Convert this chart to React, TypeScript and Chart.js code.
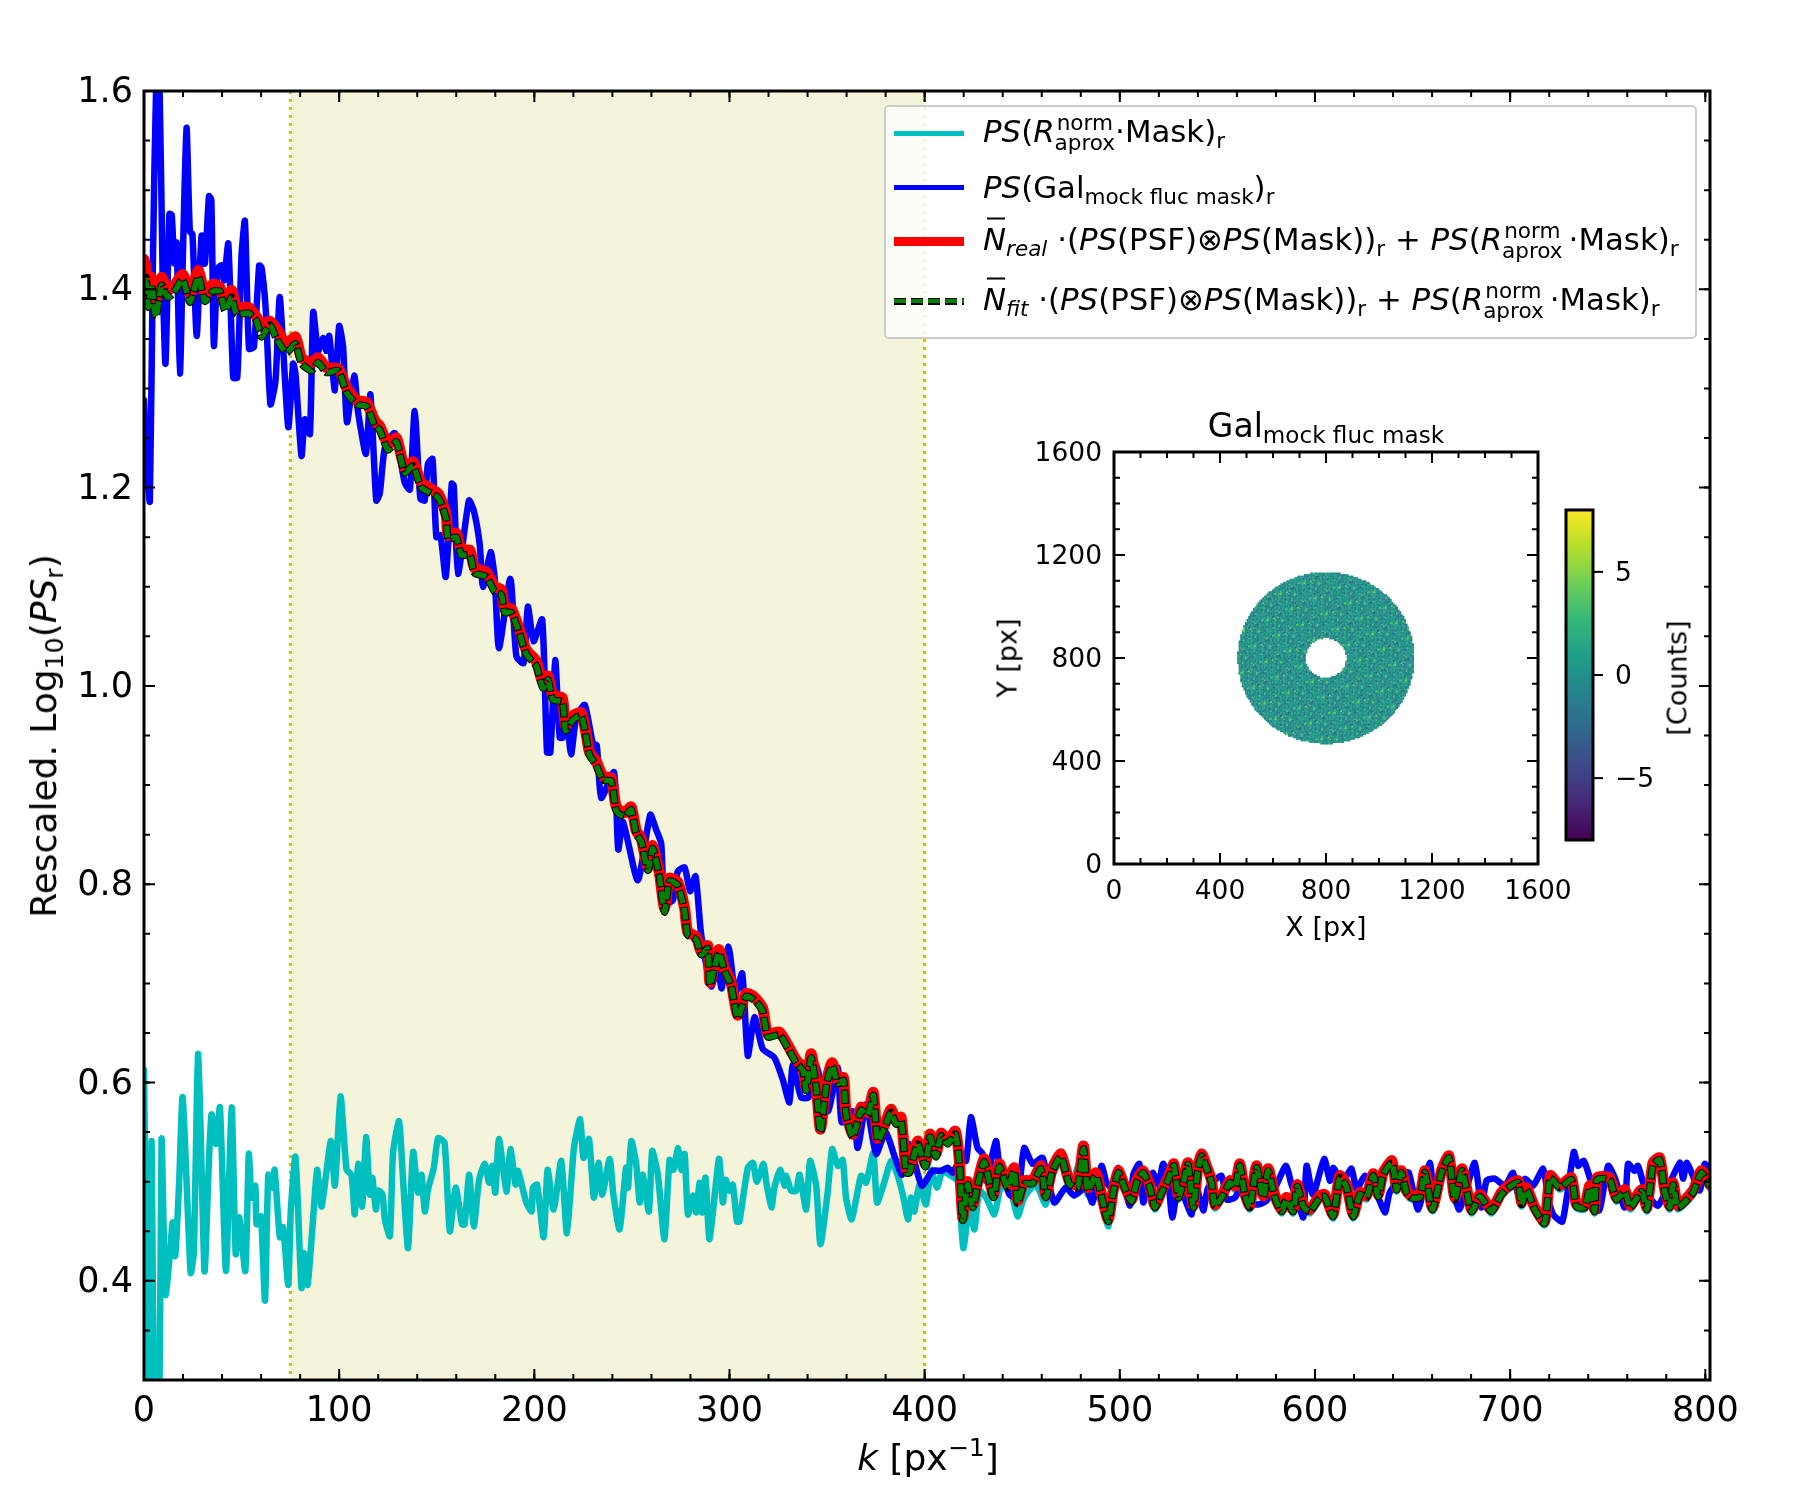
import React, { useEffect, useRef } from "react";
import { Chart, registerables } from "chart.js";

Chart.register(...registerables);

type Pair = number[];

const xTicks = [0, 100, 200, 300, 400, 500, 600, 700, 800];
const xMinorStep = 20;
const yTicks = [0.4, 0.6, 0.8, 1.0, 1.2, 1.4, 1.6];
const yMinorStep = 0.05;
const insetTicks = [0, 400, 800, 1200, 1600];
const insetMinorStep = 100;
const colorbarTicks = [-5, 0, 5];
const fitBand = [75, 400];

// [k, value], peak by peak
const cyanPoints: Pair[] = [
  [0,.613],[1,.45],[2.2,.25],[3.9,.541],[5.5,.2],[7.5,.2],[9,.543],[11,.386],[13.3,.427],[14.7,.459],[16,.425],[18,.499],[19.8,.585],[23.9,.408],[25.5,.428],[27.8,.629],[31,.41],[33,.507],[34.6,.568],[36.9,.538],[38.9,.575],[42,.41],[44.9,.575],[47,.427],[48.8,.464],[51.9,.41],[53.7,.528],[55.1,.484],[57,.496],[57.7,.457],[59.9,.465],[62,.38],[63.7,.507],[65.7,.494],[66.9,.512],[69.6,.444],[71.3,.454],[73.9,.396],[75.2,.47],[77.6,.525],[80.7,.393],[81.9,.428],[83.8,.396],[86.7,.464],[88.7,.512],[91,.475],[95.7,.541],[97.8,.496],[100.7,.586],[103.8,.512],[106.3,.507],[108,.467],[109.7,.518],[111.8,.475],[113.8,.545],[115.7,.487],[117,.504],[118.8,.472],[120,.491],[122.2,.487],[123.4,.462],[126,.445],[127.6,.529],[130.7,.561],[132.8,.5],[135.3,.433],[137.9,.53],[140.4,.489],[142.2,.507],[143.9,.47],[145.5,.492],[148.5,.514],[150.7,.544],[154,.539],[156.7,.45],[159.7,.494],[163,.457],[164.3,.457],[166.6,.507],[169,.455],[171.7,.502],[174.6,.518],[176.8,.499],[178.5,.516],[180,.489],[181.9,.543],[185.7,.49],[187.7,.533],[190.4,.497],[191.6,.511],[195.9,.479],[198.6,.47],[199.3,.494],[201.4,.497],[204.8,.444],[206.8,.512],[209.9,.472],[213.8,.521],[216.7,.448],[220.3,.534],[223.5,.563],[225.2,.524],[228,.543],[230.5,.484],[232.9,.519],[234.8,.487],[238.6,.523],[240.5,.487],[243.7,.452],[247,.514],[248,.494],[249.7,.541],[252.2,.518],[254,.479],[255.6,.507],[258.7,.47],[260.4,.531],[263.3,.507],[266.7,.442],[269.3,.522],[271.3,.512],[273.6,.534],[275.3,.512],[277,.528],[278.7,.467],[281.2,.486],[283,.469],[284.7,.499],[286,.469],[287.7,.504],[289.8,.442],[294.6,.523],[296.6,.479],[298,.502],[300,.491],[301.7,.497],[303.8,.46],[305.1,.46],[309.4,.514],[312,.519],[314,.5],[317.4,.518],[318.8,.5],[321.5,.474],[323,.494],[326,.512],[328.2,.496],[329,.506],[331.6,.491],[334.1,.491],[335.9,.507],[339.3,.472],[341.3,.521],[344.4,.496],[346.6,.437],[350.4,.491],[352.6,.533],[355.5,.516],[358,.522],[359.7,.484],[362.6,.462],[367.4,.506],[370,.499],[373.7,.529],[375.6,.479],[379.4,.5],[382.8,.521],[385.7,.509],[388.8,.487],[391.5,.462],[393,.484],[394.7,.47],[397.3,.497],[400.7,.477],[403.3,.512],[406.3,.494],[409.2,.511],[412.6,.507],[417,.5],[419.8,.433],[422.9,.474],[425.5,.452],[428,.491],[431.5,.484],[435.7,.467],[439,.494],[443.5,.494],[447.6,.465],[451,.484],[457,.497],[462,.477],[465.5,.507],[470,.52],[474,.495],[481,.525],[483.5,.487],[487.7,.5],[489.8,.49],[494,.455],[496.6,.487],[499.2,.507],[501.8,.495],[506,.478],[508.6,.497],[512,.507],[515.4,.492],[518,.472],[521.4,.487],[524.8,.5],[527.7,.514],[530,.482],[532.5,.497],[534.9,.515],[537.6,.472],[540,.51],[541.9,.524],[544.4,.512],[547,.497],[548.7,.473],[553,.485],[556.4,.497],[559,.492],[561.5,.514],[564,.485],[566.6,.472],[570,.512],[573.5,.482],[576,.509],[579.5,.482],[582.9,.468],[585.4,.48],[588.8,.468],[590.9,.493],[594,.473],[597.4,.468],[602.5,.482],[605,.483],[609.3,.463],[612.7,.502],[616.1,.493],[619.6,.463],[623,.485],[626.4,.482],[629.8,.504],[632.4,.483],[634.9,.505],[639.5,.517],[641.8,.49],[644.3,.507],[646.9,.487],[649.4,.482],[653.7,.482],[656.3,.507],[660.2,.47],[664.8,.507],[668.6,.522],[671.6,.48],[675.4,.509],[680.2,.468],[684.5,.483],[690.4,.468],[695.5,.485],[699.8,.493],[704.1,.497],[705.8,.475],[708.3,.49],[712.6,.47],[717.7,.456],[720.6,.502],[725.4,.492],[731.4,.5],[734,.473],[738.2,.472],[740.8,.492],[743.3,.468],[744.5,.5],[751,.5],[754.4,.48],[758.7,.488],[761.6,.472],[767.3,.488],[770.1,.47],[773.2,.515],[776.6,.52],[779.2,.488],[781.8,.472],[783.5,.495],[786,.472],[793.7,.487],[798,.507],[802.4,.493],
];

const bluePoints: Pair[] = [
  [0,1.288],[1.5,1.22],[3,1.186],[4.5,1.42],[6.5,1.63],[8,1.6],[9.5,1.42],[11,1.325],[13,1.476],[14.2,1.475],[15.5,1.426],[16.7,1.447],[18.4,1.315],[20,1.44],[21.8,1.563],[23.5,1.458],[24.8,1.456],[27,1.353],[29.5,1.454],[31.2,1.426],[33.3,1.494],[34.5,1.49],[35.8,1.343],[37.7,1.421],[39.8,1.424],[41,1.409],[43.2,1.446],[45.7,1.311],[47.8,1.311],[50,1.435],[51.7,1.469],[53.8,1.34],[56.3,1.342],[59,1.424],[60.2,1.422],[62.3,1.382],[64.8,1.284],[67.4,1.308],[69.6,1.392],[73.9,1.261],[76.4,1.325],[77.6,1.315],[80.7,1.232],[82.4,1.269],[85,1.254],[86.7,1.377],[89.2,1.338],[91.8,1.351],[93.5,1.338],[94.9,1.353],[97.8,1.298],[100,1.363],[102,1.342],[104,1.266],[107.7,1.313],[109.7,1.276],[113.7,1.234],[116,1.294],[119,1.187],[120.8,1.194],[123.4,1.24],[128.5,1.255],[133.6,1.205],[136.2,1.198],[138.7,1.277],[141.6,1.189],[143.8,1.187],[145.5,1.224],[147.8,1.229],[149.8,1.15],[151.9,1.152],[154.6,1.11],[157.7,1.204],[158.7,1.202],[160.9,1.113],[166.5,1.187],[169.1,1.176],[172,1.143],[173.7,1.1],[177.6,1.135],[179.7,1.108],[181.9,1.038],[187.7,1.108],[190.8,1.03],[194.5,1.023],[196.7,1.08],[199.6,1.045],[204,1.067],[206.5,.933],[208.2,.933],[210.7,1.026],[213,.948],[214.7,.948],[216.4,.972],[218.8,.931],[221.5,.968],[225.8,.981],[230,.942],[232,.94],[234.3,.887],[240.8,.913],[243,.835],[245.4,.863],[253,.804],[259.4,.87],[262.4,.855],[265,.841],[266.7,.78],[271,.784],[273.5,.813],[277,.817],[279.8,.793],[282.6,.808],[285.5,.749],[290.6,.697],[294,.715],[296,.695],[299.5,.737],[303,.69],[306.5,.71],[309.4,.627],[312.8,.666],[317,.634],[323,.625],[327.3,.603],[330.7,.58],[332.4,.618],[336.7,.585],[340.5,.585],[344.4,.618],[350.4,.571],[355.5,.615],[357.5,.56],[363.2,.571],[365.7,.534],[370,.578],[375.1,.528],[380,.55],[384.5,.526],[388.4,.507],[392,.538],[398.5,.496],[404,.511],[408.4,.511],[411.8,.514],[414.4,.509],[417.8,.521],[421.2,.521],[423.7,.565],[427.1,.534],[429.7,.528],[431.5,.501],[436.5,.541],[438.2,.518],[443.5,.487],[447.6,.484],[451,.534],[455.3,.518],[460.4,.524],[466.4,.479],[472.3,.494],[476.6,.486],[482.6,.494],[486,.479],[490.6,.516],[493.2,.499],[495.8,.494],[499.2,.514],[502,.497],[505.2,.476],[506.9,.507],[510,.518],[512,.479],[514.6,.501],[517,.509],[519.7,.497],[522.2,.518],[524.8,.501],[526.9,.464],[530,.497],[532.5,.487],[536.8,.467],[538.5,.501],[542.7,.471],[545.3,.494],[552.1,.506],[554.7,.482],[559,.484],[563.2,.497],[566.6,.479],[570.9,.477],[575.2,.481],[580.3,.497],[585.1,.516],[588,.497],[590.6,.484],[594,.464],[595.7,.516],[599,.487],[604.7,.523],[607.6,.501],[609.3,.514],[612,.506],[615.3,.504],[618.7,.513],[621.3,.492],[625.5,.506],[629.8,.497],[635.8,.469],[638.3,.489],[646,.509],[648.1,.509],[652.9,.472],[658.8,.519],[661.4,.477],[666.5,.521],[673.7,.472],[676.8,.487],[681.9,.519],[685.3,.474],[687.9,.501],[692.1,.503],[697.3,.496],[701.5,.509],[704,.487],[707.5,.503],[711.8,.496],[716.9,.513],[719.4,.484],[722,.467],[726.8,.46],[732.6,.53],[734.8,.516],[737.7,.521],[740.8,.504],[745.6,.471],[750.2,.516],[753.6,.504],[758.7,.474],[760.4,.518],[763.8,.511],[765.5,.516],[769.8,.489],[775.8,.476],[786.9,.519],[788.6,.503],[790.6,.519],[797.1,.491],[799.7,.518],[802.4,.51],
];

const redPoints: Pair[] = [
  [0,1.43],[1,1.422],[2.2,1.392],[3.9,1.412],[6.1,1.389],[9,1.412],[12,1.4],[15,1.402],[19.8,1.415],[23.6,1.395],[27.8,1.419],[31.2,1.395],[35.2,1.405],[38.9,1.402],[41.5,1.385],[44.9,1.399],[47.4,1.382],[53.4,1.382],[57.7,1.372],[60.2,1.363],[64.5,1.368],[67.9,1.36],[73,1.345],[77.6,1.352],[80.7,1.331],[85.8,1.326],[89.2,1.331],[93.5,1.321],[99.5,1.32],[103.8,1.301],[108.9,1.288],[114,1.286],[118.3,1.267],[120.8,1.262],[125,1.244],[129.3,1.25],[133.6,1.22],[137.9,1.226],[142.1,1.205],[150.7,1.194],[154.9,1.172],[155.8,1.152],[160,1.154],[162.6,1.137],[166.9,1.137],[169.4,1.119],[175.4,1.115],[179.7,1.1],[183.1,1.097],[184.8,1.078],[188.2,1.078],[192.5,1.056],[195.9,1.036],[201,1.025],[204.4,1.003],[207,1.01],[209.5,.99],[214.3,.988],[216,.96],[219.8,.97],[224,.973],[226.6,.951],[228.3,.933],[231.7,.924],[235.1,.909],[239.4,.907],[242,.878],[246.2,.872],[249.6,.878],[252.2,.854],[254.8,.846],[258.2,.817],[260.7,.839],[264.1,.811],[266.7,.776],[269.3,.806],[273.5,.802],[277,.776],[278.6,.752],[283,.747],[285.5,.732],[288.9,.738],[290,.701],[294.5,.734],[297.4,.716],[300.8,.701],[304.2,.668],[308.5,.69],[312.8,.686],[317,.675],[319.6,.649],[325.6,.651],[329.8,.638],[334.1,.623],[337.6,.615],[339.3,.595],[341.8,.629],[344.4,.598],[346.6,.553],[349.8,.602],[352.6,.62],[355.5,.602],[358.4,.605],[359.7,.571],[363.2,.548],[367.4,.575],[370.8,.57],[373.7,.59],[375.9,.544],[380.2,.561],[382.8,.573],[385.3,.561],[387.9,.565],[390.5,.512],[392.2,.512],[396.4,.541],[400.4,.518],[402.7,.548],[405.8,.528],[408.4,.549],[411.8,.541],[415.7,.551],[417.8,.521],[419.5,.464],[422,.5],[424.6,.477],[427.1,.499],[430.6,.523],[435.2,.487],[438.2,.518],[442.5,.497],[445.9,.514],[447.6,.481],[451,.501],[455.3,.501],[459.6,.516],[462.1,.487],[465.5,.514],[469.8,.528],[474.1,.501],[478.3,.497],[481.4,.536],[483.5,.494],[487.7,.509],[489.8,.494],[494,.462],[496.6,.491],[499.2,.511],[501.8,.499],[506,.482],[508.6,.501],[512,.511],[515.4,.496],[518,.476],[521.4,.491],[524.8,.504],[527.7,.518],[530,.486],[532.5,.501],[534.9,.519],[537.6,.476],[540,.514],[541.9,.528],[544.4,.516],[547,.501],[548.7,.477],[553,.489],[556.4,.501],[559,.496],[561.5,.518],[564,.489],[566.6,.476],[570,.516],[573.5,.486],[576,.513],[579.5,.486],[582.9,.472],[585.4,.484],[588.8,.472],[590.9,.497],[594,.477],[597.4,.472],[602.5,.486],[605,.487],[609.3,.467],[612.7,.506],[616.1,.497],[619.6,.467],[623,.489],[626.4,.486],[629.8,.508],[632.4,.487],[634.9,.509],[639.5,.521],[641.8,.494],[644.3,.511],[646.9,.491],[649.4,.486],[653.7,.486],[656.3,.511],[660.2,.474],[664.8,.511],[668.6,.526],[671.6,.484],[675.4,.513],[680.2,.472],[684.5,.487],[690.4,.472],[695.5,.489],[699.8,.497],[704.1,.501],[705.8,.479],[708.3,.494],[712.6,.474],[717.7,.46],[720.6,.506],[725.4,.496],[731.4,.504],[734,.477],[738.2,.476],[740.8,.496],[743.3,.472],[744.5,.504],[751,.504],[754.4,.484],[758.7,.492],[761.6,.476],[767.3,.492],[770.1,.474],[773.2,.519],[776.6,.524],[779.2,.492],[781.8,.476],[783.5,.499],[786,.476],[793.7,.491],[798,.511],[802.4,.497],
];

const fitPoints: Pair[] = [
  [0,1.4],[1,1.412],[2.2,1.382],[3.9,1.405],[6.1,1.372],[9,1.404],[12,1.392],[15,1.396],[19.8,1.41],[23.6,1.387],[27.8,1.413],[31.2,1.388],[35.2,1.398],[38.9,1.398],[41.5,1.378],[44.9,1.392],[47.4,1.375],[53.4,1.376],[57.7,1.368],[60.2,1.352],[64.5,1.364],[67.9,1.35],[73,1.336],[77.6,1.345],[80.7,1.325],[85.8,1.318],[89.2,1.326],[93.5,1.316],[99.5,1.318],[103.8,1.296],[108.9,1.284],[114,1.282],[118.3,1.262],[120.8,1.258],[125,1.238],[129.3,1.246],[133.6,1.215],[137.9,1.222],[142.1,1.2],[150.7,1.19],[154.9,1.168],[155.8,1.148],[160,1.15],[162.6,1.132],[166.9,1.132],[169.4,1.114],[175.4,1.11],[179.7,1.095],[183.1,1.092],[184.8,1.074],[188.2,1.074],[192.5,1.052],[195.9,1.032],[201,1.02],[204.4,.998],[207,1.006],[209.5,.986],[214.3,.984],[216,.955],[219.8,.966],[224,.97],[226.6,.948],[228.3,.93],[231.7,.92],[235.1,.905],[239.4,.904],[242,.874],[246.2,.868],[249.6,.875],[252.2,.851],[254.8,.843],[258.2,.814],[260.7,.836],[264.1,.808],[266.7,.772],[269.3,.803],[273.5,.799],[277,.773],[278.6,.749],[283,.744],[285.5,.729],[288.9,.735],[290,.698],[294.5,.731],[297.4,.713],[300.8,.698],[304.2,.665],[308.5,.687],[312.8,.683],[317,.672],[319.6,.646],[325.6,.648],[329.8,.635],[334.1,.62],[337.6,.612],[339.3,.592],[341.8,.625],[344.4,.595],[346.6,.55],[349.8,.599],[352.6,.617],[355.5,.599],[358.4,.602],[359.7,.568],[363.2,.545],[367.4,.572],[370.8,.567],[373.7,.587],[375.9,.541],[380.2,.558],[382.8,.57],[385.3,.558],[387.9,.562],[390.5,.509],[392.2,.509],[396.4,.538],[400.4,.515],[402.7,.545],[405.8,.525],[408.4,.546],[411.8,.538],[415.7,.548],[417.8,.518],[419.5,.461],[422,.497],[424.6,.474],[427.1,.496],[430.6,.52],[435.2,.484],[438.2,.515],[442.5,.494],[445.9,.511],[447.6,.478],[451,.498],[455.3,.498],[459.6,.513],[462.1,.484],[465.5,.511],[469.8,.525],[474.1,.498],[478.3,.494],[481.4,.533],[483.5,.491],[487.7,.506],[489.8,.492],[494,.46],[496.6,.489],[499.2,.509],[501.8,.497],[506,.48],[508.6,.499],[512,.509],[515.4,.494],[518,.474],[521.4,.489],[524.8,.502],[527.7,.516],[530,.484],[532.5,.499],[534.9,.517],[537.6,.474],[540,.512],[541.9,.526],[544.4,.514],[547,.499],[548.7,.475],[553,.487],[556.4,.499],[559,.494],[561.5,.516],[564,.487],[566.6,.474],[570,.514],[573.5,.484],[576,.511],[579.5,.484],[582.9,.47],[585.4,.482],[588.8,.47],[590.9,.495],[594,.475],[597.4,.47],[602.5,.484],[605,.485],[609.3,.465],[612.7,.504],[616.1,.495],[619.6,.465],[623,.487],[626.4,.484],[629.8,.506],[632.4,.485],[634.9,.507],[639.5,.519],[641.8,.492],[644.3,.509],[646.9,.489],[649.4,.484],[653.7,.484],[656.3,.509],[660.2,.472],[664.8,.509],[668.6,.524],[671.6,.482],[675.4,.511],[680.2,.47],[684.5,.485],[690.4,.47],[695.5,.487],[699.8,.495],[704.1,.499],[705.8,.477],[708.3,.492],[712.6,.472],[717.7,.458],[720.6,.504],[725.4,.494],[731.4,.502],[734,.475],[738.2,.474],[740.8,.494],[743.3,.47],[744.5,.502],[751,.502],[754.4,.482],[758.7,.49],[761.6,.474],[767.3,.49],[770.1,.472],[773.2,.517],[776.6,.522],[779.2,.49],[781.8,.474],[783.5,.497],[786,.474],[793.7,.489],[798,.509],[802.4,.495],
];

// The ring's per-pixel noise cannot be read one cell at a time: this is a hand
// estimated sample of its [Counts], repeated over the cells of the ring.
const noiseSample = [
  0,1,-1,2,-1,0,1,-2,1,3,-1,0,-1,1,1,-3,0,2,-1,1,4,-1,0,1,-2,1,0,-1,2,-1,1,0,-1,3,-2,0,1,1,-1,0,
  2,-1,-3,1,0,1,-1,4,0,-1,1,-2,1,0,2,-1,1,-1,0,3,-2,1,1,-1,0,-1,2,0,1,-3,1,-1,5,0,-1,1,2,-2,0,1,
  -1,1,0,-1,3,-1,1,-2,0,1,2,-1,0,-4,1,1,-1,2,0,-1,1,3,-2,0,1,-1,0,1,-1,4,-1,0,2,-3,1,1,0,-1,-1,2,
  1,-2,0,1,-1,3,0,-1,1,0,2,-1,-2,1,0,1,-1,3,-1,0,1,-2,1,0,-1,2,-3,1,1,0,-1,2,-1,5,0,-2,1,1,-1,0,
  3,-1,1,-1,0,2,-1,0,1,-4,1,2,-1,0,-1,1,1,-2,3,0,-1,1,0,-1,1,2,-2,0,-1,4,1,-1,0,1,-3,1,2,-1,0,
];
const ringCenter = 800;
const ringInner = 77;
const ringOuter = 333;
const ringCell = 6;

const viridisStops = ["#440154", "#482878", "#3e4989", "#31688e", "#26828e", "#1f9e89", "#35b779", "#6ece58", "#b5de2b", "#fde725"];
const colorbarRange = [-8, 8];

function viridis(v: number) {
  const t = Math.max(0, Math.min(1, (v - colorbarRange[0]) / (colorbarRange[1] - colorbarRange[0])));
  const p = t * (viridisStops.length - 1);
  const i = Math.min(viridisStops.length - 2, Math.floor(p));
  const rgb = (h: string) => [1, 3, 5].map((o) => parseInt(h.slice(o, o + 2), 16));
  const a = rgb(viridisStops[i]);
  const b = rgb(viridisStops[i + 1]);
  const c = a.map((x, n) => Math.round(x + (b[n] - x) * (p - i)));
  return `rgb(${c[0]},${c[1]},${c[2]})`;
}

function ringCells() {
  const pts: { x: number; y: number }[] = [];
  const colors: string[] = [];
  for (let row = 0; row * ringCell <= 1600; row++) {
    for (let col = 0; col * ringCell <= 1600; col++) {
      const x = col * ringCell;
      const y = row * ringCell;
      const r = Math.hypot(x - ringCenter, y - ringCenter);
      if (r < ringInner || r > ringOuter) continue;
      pts.push({ x, y });
      colors.push(viridis(noiseSample[(col * 13 + row * 29) % noiseSample.length]));
    }
  }
  return { pts, colors };
}

const toXY = (list: Pair[]) => list.map(([x, y]) => ({ x, y }));

const FONT = "'DejaVu Sans'";

// inward ticks on all four sides plus the frame, as matplotlib draws them
function framePlugin(xMajor: number[], xStep: number, yMajor: number[], yStep: number) {
  return {
    id: "frame",
    afterDraw(chart: any) {
      const { ctx, chartArea: a, scales } = chart;
      const xs = scales.x;
      const ys = scales.y;
      ctx.save();
      ctx.strokeStyle = "#000";
      ctx.lineWidth = 2;
      const tickX = (v: number, len: number) => {
        const p = xs.getPixelForValue(v);
        ctx.beginPath();
        ctx.moveTo(p, a.bottom);
        ctx.lineTo(p, a.bottom - len);
        ctx.moveTo(p, a.top);
        ctx.lineTo(p, a.top + len);
        ctx.stroke();
      };
      const tickY = (v: number, len: number) => {
        const p = ys.getPixelForValue(v);
        ctx.beginPath();
        ctx.moveTo(a.left, p);
        ctx.lineTo(a.left + len, p);
        ctx.moveTo(a.right, p);
        ctx.lineTo(a.right - len, p);
        ctx.stroke();
      };
      for (let v = xs.min; v <= xs.max + 1e-6; v += xStep) tickX(v, 6);
      for (let v = ys.max; v >= ys.min - 1e-6; v -= yStep) tickY(v, 6);
      xMajor.forEach((v) => tickX(v, 11));
      yMajor.forEach((v) => tickY(v, 11));
      ctx.lineWidth = 3;
      ctx.strokeRect(a.left, a.top, a.right - a.left, a.bottom - a.top);
      ctx.restore();
    },
  };
}

const bandPlugin = {
  id: "band",
  beforeDatasetsDraw(chart: any) {
    const { ctx, chartArea: a, scales } = chart;
    const x0 = scales.x.getPixelForValue(fitBand[0]);
    const x1 = scales.x.getPixelForValue(fitBand[1]);
    ctx.save();
    ctx.fillStyle = "#f4f4da";
    ctx.fillRect(x0, a.top, x1 - x0, a.bottom - a.top);
    ctx.strokeStyle = "#c8c000";
    ctx.lineWidth = 3;
    ctx.setLineDash([3, 5]);
    [x0, x1].forEach((x) => {
      ctx.beginPath();
      ctx.moveTo(x, a.top);
      ctx.lineTo(x, a.bottom);
      ctx.stroke();
    });
    ctx.restore();
  },
};

const colorbarPlugin = {
  id: "colorbar",
  beforeDatasetsDraw(chart: any) {
    const { ctx, chartArea: a } = chart;
    const g = ctx.createLinearGradient(0, a.bottom, 0, a.top);
    viridisStops.forEach((c, i) => g.addColorStop(i / (viridisStops.length - 1), c));
    ctx.save();
    ctx.fillStyle = g;
    ctx.fillRect(a.left, a.top, a.right - a.left, a.bottom - a.top);
    ctx.strokeStyle = "#000";
    ctx.lineWidth = 3;
    ctx.strokeRect(a.left, a.top, a.right - a.left, a.bottom - a.top);
    ctx.restore();
  },
};

const lineSet = (data: Pair[], color: string, width: number, order: number, extra = {}) => ({
  data: toXY(data),
  showLine: true,
  borderColor: color,
  borderWidth: width,
  pointRadius: 0,
  tension: 0.2,
  order,
  borderJoinStyle: "round",
  borderCapStyle: "round",
  ...extra,
});

const canvasStyle: React.CSSProperties = { position: "absolute", left: 0, top: 0, width: 1800, height: 1500 };

function MainChart() {
  const ref = useRef<HTMLCanvasElement | null>(null);
  useEffect(() => {
    if (!ref.current) return;
    const chart = new Chart(ref.current, {
      type: "scatter",
      data: {
        datasets: [
          lineSet(cyanPoints, "#00bfbf", 6.5, 5),
          lineSet(bluePoints, "#0000ff", 6.5, 4),
          lineSet(redPoints, "#ff0000", 11, 3),
          lineSet(fitPoints, "#000000", 7.5, 2, { borderDash: [14, 3], borderDashOffset: 1, borderCapStyle: "butt" }),
          lineSet(fitPoints, "#007f00", 5.5, 1, { borderDash: [12, 5], borderCapStyle: "butt" }),
        ] as any,
      },
      options: {
        animation: false,
        responsive: false,
        devicePixelRatio: 1,
        layout: { padding: { left: 0, right: 90, top: 91, bottom: 0 } },
        plugins: { legend: { display: false }, tooltip: { enabled: false } },
        scales: {
          x: {
            type: "linear",
            min: 0,
            max: 802.4,
            grid: { display: false },
            border: { display: false },
            afterBuildTicks: (s: any) => { s.ticks = xTicks.map((value) => ({ value })); },
            afterFit: (s: any) => { s.height = 120; },
            ticks: { color: "#000", padding: 3, maxRotation: 0, autoSkip: false, font: { family: FONT, size: 35 } },
          },
          y: {
            type: "linear",
            min: 0.3,
            max: 1.6,
            grid: { display: false },
            border: { display: false },
            afterBuildTicks: (s: any) => { s.ticks = yTicks.map((value) => ({ value })); },
            afterFit: (s: any) => { s.width = 144; },
            ticks: {
              color: "#000",
              padding: 3,
              labelOffset: 2,
              autoSkip: false,
              font: { family: FONT, size: 35 },
              callback: (v: any) => Number(v).toFixed(1),
            },
          },
        },
      },
      plugins: [bandPlugin, framePlugin(xTicks, xMinorStep, yTicks, yMinorStep)],
    } as any);
    return () => chart.destroy();
  }, []);
  return <canvas ref={ref} width={1800} height={1500} style={canvasStyle} />;
}

function InsetChart() {
  const ref = useRef<HTMLCanvasElement | null>(null);
  useEffect(() => {
    if (!ref.current) return;
    const { pts, colors } = ringCells();
    const insetScale = (width: boolean) => ({
      type: "linear",
      min: 0,
      max: 1600,
      grid: { display: false },
      border: { display: false },
      afterBuildTicks: (s: any) => { s.ticks = insetTicks.map((value) => ({ value })); },
      afterFit: (s: any) => {
        if (width) s.width = 1114;
        else s.height = 1500 - 864;
      },
      ticks: {
        color: "#000",
        padding: 4,
        labelOffset: width ? 2 : 0,
        maxRotation: 0,
        autoSkip: false,
        font: { family: FONT, size: 26.5 },
        callback: (v: any) => String(v),
      },
    });
    const chart = new Chart(ref.current, {
      type: "scatter",
      data: {
        datasets: [
          {
            data: pts,
            pointStyle: "rect",
            pointRadius: 1.4,
            pointBorderWidth: 0,
            pointBackgroundColor: colors,
          },
        ],
      },
      options: {
        animation: false,
        responsive: false,
        devicePixelRatio: 1,
        layout: { padding: { left: 0, right: 1800 - 1538, top: 452, bottom: 0 } },
        plugins: { legend: { display: false }, tooltip: { enabled: false } },
        scales: { x: insetScale(false), y: insetScale(true) },
      },
      plugins: [framePlugin(insetTicks, insetMinorStep, insetTicks, insetMinorStep)],
    } as any);
    return () => chart.destroy();
  }, []);
  return <canvas ref={ref} width={1800} height={1500} style={canvasStyle} />;
}

function ColorbarChart() {
  const ref = useRef<HTMLCanvasElement | null>(null);
  useEffect(() => {
    if (!ref.current) return;
    const chart = new Chart(ref.current, {
      type: "scatter",
      data: { datasets: [{ data: [], pointRadius: 0 }] },
      options: {
        animation: false,
        responsive: false,
        devicePixelRatio: 1,
        layout: { padding: { left: 1566, right: 81, top: 510, bottom: 0 } },
        plugins: { legend: { display: false }, tooltip: { enabled: false } },
        scales: {
          x: { display: false, min: 0, max: 1, afterFit: (s: any) => { s.height = 660; } },
          y: {
            type: "linear",
            position: "right",
            min: colorbarRange[0],
            max: colorbarRange[1],
            grid: { display: false, drawTicks: false },
            border: { display: false },
            afterBuildTicks: (s: any) => { s.ticks = colorbarTicks.map((value) => ({ value })); },
            afterFit: (s: any) => { s.width = 126; },
            ticks: {
              color: "#000",
              padding: 22,
              labelOffset: 2,
              autoSkip: false,
              font: { family: FONT, size: 26.5 },
              callback: (v: any) => String(v).replace("-", "\u2212"),
            },
          },
        },
      },
      plugins: [
        colorbarPlugin,
        {
          id: "cbTicks",
          afterDraw(c: any) {
            const { ctx, chartArea: a, scales } = c;
            ctx.save();
            ctx.strokeStyle = "#000";
            ctx.lineWidth = 2;
            colorbarTicks.forEach((v) => {
              const p = scales.y.getPixelForValue(v);
              ctx.beginPath();
              ctx.moveTo(a.right, p);
              ctx.lineTo(a.right + 10, p);
              ctx.stroke();
            });
            ctx.restore();
          },
        },
      ],
    } as any);
    return () => chart.destroy();
  }, []);
  return <canvas ref={ref} width={1800} height={1500} style={canvasStyle} />;
}

const subStyle: React.CSSProperties = { fontSize: "0.7em", verticalAlign: "-0.28em", lineHeight: 0 };

const Sub = ({ children }: { children: React.ReactNode }) => <span style={subStyle}>{children}</span>;
const I = ({ children }: { children: React.ReactNode }) => <i>{children}</i>;

const Stack = ({ gap = 0 }: { gap?: number }) => (
  <span
    style={{
      display: "inline-flex",
      flexDirection: "column",
      verticalAlign: "middle",
      fontSize: "0.7em",
      lineHeight: "0.95em",
      marginRight: gap,
      textAlign: "center",
    }}
  >
    <span>norm</span>
    <span>aprox</span>
  </span>
);

const NBar = ({ name }: { name: string }) => (
  <>
    <span style={{ position: "relative", fontStyle: "italic" }}>
      N
      <span style={{ position: "absolute", left: 4, right: 1, top: -3, height: 2, background: "#000" }} />
    </span>
    <i style={subStyle}>{name}</i>
  </>
);

const Label = ({ x, y, size, rotate, children }: { x: number; y: number; size: number; rotate?: boolean; children: React.ReactNode }) => (
  <div
    style={{
      position: "absolute",
      left: x,
      top: y,
      fontFamily: FONT,
      fontSize: size,
      lineHeight: 1,
      whiteSpace: "nowrap",
      color: "#000",
      transform: `translate(-50%, -50%)${rotate ? " rotate(-90deg)" : ""}`,
    }}
  >
    {children}
  </div>
);

const Row = ({ y, children }: { y: number; children: React.ReactNode }) => (
  <div
    style={{
      position: "absolute",
      left: 97,
      top: y,
      transform: "translateY(-50%)",
      whiteSpace: "nowrap",
      fontFamily: FONT,
      fontSize: 30.8,
      lineHeight: 1,
      color: "#000",
    }}
  >
    {children}
  </div>
);

const Swatch = ({ y, color, height, dashed }: { y: number; color: string; height: number; dashed?: boolean }) => (
  <div
    style={{
      position: "absolute",
      left: 8,
      top: y - height / 2,
      width: 70,
      height,
      background: dashed ? `repeating-linear-gradient(90deg, ${color} 0 12px, transparent 12px 17px)` : color,
    }}
  />
);

function LegendBox() {
  return (
    <div
      style={{
        position: "absolute",
        left: 884,
        top: 105,
        width: 813,
        height: 234,
        boxSizing: "border-box",
        border: "2px solid #ccc",
        borderRadius: 5,
        background: "rgba(255,255,255,0.8)",
      }}
    >
      <Swatch y={26} color="#00bfbf" height={5} />
      <Swatch y={80} color="#0000ff" height={5} />
      <Swatch y={134} color="#ff0000" height={9} />
      <Swatch y={194} color="#000" height={7} dashed />
      <Swatch y={194} color="#007f00" height={4} dashed />
      <Row y={26}>
        <I>PS</I>(<I>R</I><Stack />·Mask)<Sub>r</Sub>
      </Row>
      <Row y={80}>
        <I>PS</I>(Gal<Sub>mock fluc mask</Sub>)<Sub>r</Sub>
      </Row>
      <Row y={134}>
        <NBar name="real" />&nbsp;·(<I>PS</I>(PSF)⊗<I>PS</I>(Mask))<Sub>r</Sub> + <I>PS</I>(<I>R</I><Stack gap={6} />·Mask)<Sub>r</Sub>
      </Row>
      <Row y={194}>
        <NBar name="fit" />&nbsp;·(<I>PS</I>(PSF)⊗<I>PS</I>(Mask))<Sub>r</Sub> + <I>PS</I>(<I>R</I><Stack gap={6} />·Mask)<Sub>r</Sub>
      </Row>
    </div>
  );
}

export default function App() {
  return (
    <div style={{ position: "relative", width: 1800, height: 1500, background: "#fff", overflow: "hidden" }}>
      <style>{"body{margin:0}"}</style>
      <MainChart />
      <InsetChart />
      <ColorbarChart />
      <LegendBox />
      <Label x={44} y={736} size={36} rotate>
        Rescaled. Log<Sub>10</Sub>(<I>PS</I><Sub>r</Sub>)
      </Label>
      <Label x={928} y={1458} size={36}>
        <I>k</I> [px<span style={{ fontSize: "0.7em", verticalAlign: "0.55em", lineHeight: 0 }}>−1</span>]
      </Label>
      <Label x={1326} y={425} size={33}>
        Gal<Sub>mock fluc mask</Sub>
      </Label>
      <Label x={1326} y={926} size={27}>X [px]</Label>
      <Label x={1007} y={658} size={27} rotate>Y [px]</Label>
      <Label x={1677} y={678} size={27} rotate>[Counts]</Label>
    </div>
  );
}
